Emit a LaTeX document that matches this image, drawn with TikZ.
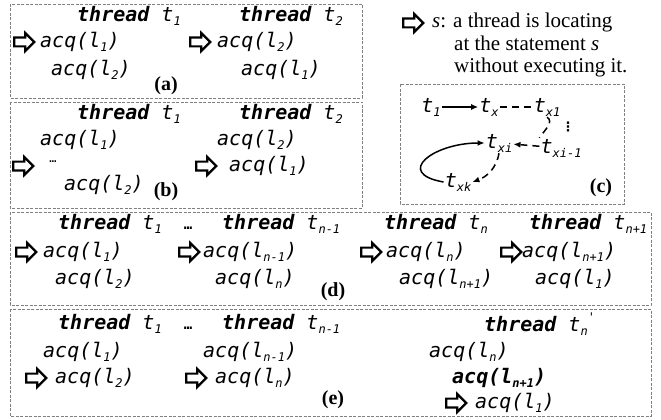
\documentclass[tikz,border=0pt]{standalone}
\usepackage{fontspec}
\setmainfont{Liberation Serif}
\newfontfamily\codefont{DejaVu Sans Mono}[ItalicFont={DejaVu Sans Mono Oblique},BoldItalicFont={DejaVu Sans Mono Bold Oblique}]
\newfontfamily\symfont{DejaVu Sans}
\usetikzlibrary{arrows.meta,shapes.arrows}

\newcommand{\sbs}[1]{\raisebox{-4pt}{\fontsize{12}{12}\selectfont #1}}
\newcommand{\sps}[1]{\raisebox{10pt}{\fontsize{12}{12}\selectfont #1}}
\newcommand{\thr}[1]{\textbf{thread}~t\sbs{#1}}
\newcommand{\acq}[1]{acq(l\sbs{#1})}

\begin{document}
\begin{tikzpicture}[
    x=1pt, y=-1pt,
    code/.style={
        font=\codefont\itshape\fontsize{20}{24}\selectfont,
        anchor=west,
        inner sep=0pt
    },
    tnode/.style={
        font=\codefont\itshape\fontsize{20}{24}\selectfont,
        inner sep=1pt
    },
    ptr/.style={
        single arrow,
        draw,
        line width=2.2pt,
        fill=white,
        inner xsep=0pt,
        inner ysep=3.3pt,
        minimum height=20pt,
        minimum width=16pt,
        single arrow head extend=4.5pt
    },
    panel/.style={draw=gray, dash pattern=on 3pt off 1.5pt, line width=0.7pt},
    tag/.style={font=\bfseries\fontsize{20}{24}\selectfont, inner sep=0pt},
    skip/.style={font=\codefont\bfseries\fontsize{14}{14}\selectfont, inner sep=0pt},
    link/.style={line width=1.5pt},
    hop/.style={line width=1.5pt, dash pattern=on 7pt off 5pt}
]
\useasboundingbox (0,0) rectangle (661,420);

% Panels
\foreach \x/\y/\X/\Y in {10/4/362/98, 10/102/362/208, 400/84/624/204,
                          10/212/651/305, 10/309/651/416}
    \draw[panel] (\x,\y) rectangle (\X,\Y);

% (a)
\node[code] (a-t1) at (77,16) {\thr{1}};
\node[code] (a-t2) at (239,16) {\thr{2}};
\node[ptr] (a-p1) at (22,42) {};
\node[code] (a-s11) at (40,42) {\acq{1}};
\node[code] (a-s12) at (51,70) {\acq{2}};
\node[ptr] (a-p2) at (198,42) {};
\node[code] (a-s21) at (217,42) {\acq{2}};
\node[code] (a-s22) at (241,70) {\acq{1}};
\node[tag] (a-tag) at (166,86) {(a)};

% (b)
\node[code] (b-t1) at (77,114) {\thr{1}};
\node[code] (b-t2) at (239,114) {\thr{2}};
\node[code] (b-s11) at (40,140) {\acq{1}};
\node[ptr] (b-p1) at (21,166) {};
\node[skip, font=\codefont\fontsize{12}{12}\selectfont] (b-dots) at (53,162) {\dots};
\node[code] (b-s12) at (64,185) {\acq{2}};
\node[code] (b-s21) at (217,140) {\acq{2}};
\node[ptr] (b-p2) at (204,166) {};
\node[code] (b-s22) at (229,166) {\acq{1}};
\node[tag] (b-tag) at (166,192) {(b)};

% Legend
\node[ptr] (key-p) at (411,23) {};
\node[anchor=north west, align=left, inner sep=0pt,
      font=\fontsize{21}{22.5}\selectfont] (key) at (432,13)
    {\textit{s}: a thread is locating\\
     \hspace*{22pt}at the statement \textit{s}\\
     \hspace*{22pt}without executing it.};

% (c)
\node[tnode] (c1) at (431,107) {t\sbs{1}};
\node[tnode] (cx) at (489,107) {t\sbs{x}};
\node[tnode] (cx1) at (547,107) {t\sbs{x1}};
\node[tnode] (cxi) at (499,143) {t\sbs{xi}};
\node[tnode] (cxm) at (561,148) {t\sbs{xi-1}};
\node[tnode] (cxk) at (458,182) {t\sbs{xk}};
\node[inner sep=0pt, font=\symfont\bfseries\fontsize{13}{13}\selectfont] (cdots) at (568,127) {⋮};
\node[tag] (c-tag) at (601,188) {(c)};

\draw[link, -{Latex[length=7pt,width=6pt]}] (c1) -- (cx);
\draw[hop] (cx) -- (cx1);
\draw[hop] (cx1.south) to[out=-30, in=55] (cxm.north west);
\draw[hop, -{Latex[length=7pt,width=6pt]}] (cxm) -- (cxi);
\draw[hop, -{Latex[length=7pt,width=6pt]}] (cxi.south) to[out=-100, in=20] (cxk.east);
\draw[link, -{Latex[length=7pt,width=6pt]}] (cxk.west) to[out=170, in=180, looseness=2.3] (cxi.west);

% (d)
\node[code] (d-t1) at (58,224) {\thr{1}};
\node[skip] (d-dots) at (188,228) {\dots};
\node[code] (d-t2) at (222,224) {\thr{n-1}};
\node[code] (d-t3) at (384,224) {\thr{n}};
\node[code] (d-t4) at (529,224) {\thr{n+1}};
\node[ptr] (d-p1) at (24,252) {};
\node[code] (d-s11) at (43,252) {\acq{1}};
\node[code] (d-s12) at (55,279) {\acq{2}};
\node[ptr] (d-p2) at (187,252) {};
\node[code] (d-s21) at (203,252) {\acq{n-1}};
\node[code] (d-s22) at (215,279) {\acq{n}};
\node[ptr] (d-p3) at (369,252) {};
\node[code] (d-s31) at (386,252) {\acq{n}};
\node[code] (d-s32) at (399,279) {\acq{n+1}};
\node[ptr] (d-p4) at (509,252) {};
\node[code] (d-s41) at (522,252) {\acq{n+1}};
\node[code] (d-s42) at (535,279) {\acq{1}};
\node[tag] (d-tag) at (333,292) {(d)};

% (e)
\node[code] (e-t1) at (58,324) {\thr{1}};
\node[skip] (e-dots) at (188,328) {\dots};
\node[code] (e-t2) at (222,324) {\thr{n-1}};
\node[code] (e-t3) at (484,324) {\textbf{thread}~t\sbs{n}\sps{'}};
\node[code] (e-s11) at (43,352) {\acq{1}};
\node[ptr] (e-p1) at (34,378) {};
\node[code] (e-s12) at (55,378) {\acq{2}};
\node[code] (e-s21) at (203,352) {\acq{n-1}};
\node[ptr] (e-p2) at (194,378) {};
\node[code] (e-s22) at (215,378) {\acq{n}};
\node[code] (e-s31) at (429,352) {\acq{n}};
\node[code] (e-s32) at (452,378) {\textbf{\acq{n+1}}};
\node[ptr] (e-p3) at (454,403) {};
\node[code] (e-s33) at (475,403) {\acq{1}};
\node[tag] (e-tag) at (333,400) {(e)};

\end{tikzpicture}
\end{document}
